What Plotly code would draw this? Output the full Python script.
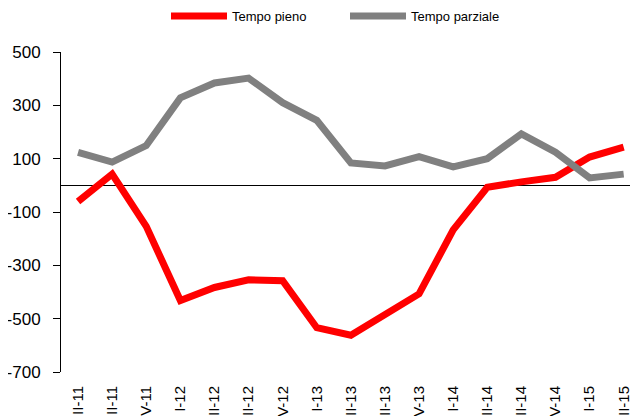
import plotly.graph_objects as go

quarters = ["II-11", "III-11", "IV-11", "I-12", "II-12", "III-12", "IV-12", "I-13",
            "II-13", "III-13", "IV-13", "I-14", "II-14", "III-14", "IV-14", "I-15", "II-15"]
tempo_pieno = [-61, 42, -154, -432, -383, -354, -358, -534, -562, -482, -407, -167, -7, 13, 30, 106, 143]
tempo_parziale = [124, 87, 149, 328, 384, 402, 310, 244, 84, 73, 108, 69, 100, 193, 124, 28, 42]
y_ticks = [500, 300, 100, -100, -300, -500, -700]

fig = go.Figure()
fig.add_trace(go.Scatter(x=list(range(len(quarters))), y=tempo_pieno, mode="lines",
                         name="Tempo pieno", line=dict(color="#FF0000", width=7)))
fig.add_trace(go.Scatter(x=list(range(len(quarters))), y=tempo_parziale, mode="lines",
                         name="Tempo parziale", line=dict(color="#808080", width=7)))

fig.update_layout(
    width=630, height=408,
    margin=dict(l=53, r=0, t=44, b=44),
    paper_bgcolor="white", plot_bgcolor="white",
    font=dict(family="Liberation Sans, Arial, sans-serif", color="#000000"),
    showlegend=True,
    legend=dict(orientation="h", xref="container", x=158 / 630, xanchor="left",
                yref="container", y=1 - 8 / 408, yanchor="middle",
                font=dict(size=13, color="#000000"),
                itemwidth=56, entrywidth=108),
)

fig.update_xaxes(
    range=[-0.5, 16.42],
    tickmode="array", tickvals=list(range(len(quarters))), ticktext=quarters,
    tickangle=-90, tickfont=dict(size=15, color="#000000"),
    showgrid=False, showline=False, zeroline=False, ticks="",
    automargin=False, ticklabelstandoff=10,
)
fig.update_yaxes(
    range=[-700, 500], tickmode="array", tickvals=y_ticks,
    ticktext=[str(v) for v in y_ticks],
    tickfont=dict(size=17, color="#000000"),
    showgrid=False, showline=True, linecolor="#000000", linewidth=1,
    ticks="outside", ticklen=7, tickcolor="#000000",
    zeroline=True, zerolinecolor="#000000", zerolinewidth=1,
    automargin=False, ticklabelstandoff=9,
)

fig.write_html("out.html")
